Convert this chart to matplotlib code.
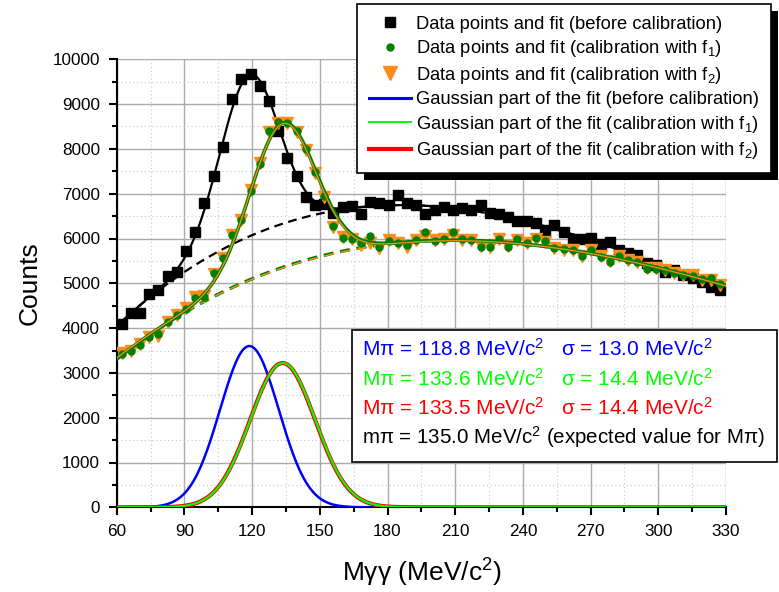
import numpy as np
import matplotlib.pyplot as plt
from matplotlib.lines import Line2D
from matplotlib.patches import Rectangle
from matplotlib.ticker import MultipleLocator
from matplotlib.transforms import IdentityTransform

plt.rcParams['font.family'] = ['Liberation Sans', 'DejaVu Sans']
plt.rcParams['mathtext.fontset'] = 'custom'
plt.rcParams['mathtext.rm'] = 'Liberation Sans'
plt.rcParams['mathtext.it'] = 'Liberation Sans:italic'
plt.rcParams['mathtext.bf'] = 'Liberation Sans:bold'

# 直方图的 bin 中心 (MeV/c^2)
m_gg = [62.2, 66.3, 70.4, 74.4, 78.5, 82.6, 86.7, 90.8, 94.8, 98.9,
        103.0, 107.1, 111.2, 115.2, 119.3, 123.4, 127.5, 131.6, 135.6, 139.7,
        143.8, 147.9, 152.0, 156.0, 160.1, 164.2, 168.3, 172.4, 176.4, 180.5,
        184.6, 188.7, 192.8, 196.8, 200.9, 205.0, 209.1, 213.2, 217.2, 221.3,
        225.4, 229.5, 233.6, 237.6, 241.7, 245.8, 249.9, 254.0, 258.0, 262.1,
        266.2, 270.3, 274.4, 278.4, 282.5, 286.6, 290.7, 294.8, 298.8, 302.9,
        307.0, 311.1, 315.2, 319.3, 323.3, 327.4]

# 标定前
counts_before = [4090, 4330, 4330, 4760, 4860, 5170, 5260, 5720, 6150, 6790,
                 7400, 8050, 9110, 9560, 9670, 9410, 9080, 8390, 7790, 7400,
                 6930, 6740, 6770, 6580, 6710, 6720, 6550, 6820, 6790, 6750,
                 6970, 6790, 6750, 6550, 6640, 6710, 6640, 6670, 6640, 6750,
                 6560, 6540, 6490, 6380, 6380, 6340, 6190, 6300, 6150, 6000,
                 6000, 6020, 5870, 5930, 5740, 5670, 5630, 5450, 5410, 5260,
                 5300, 5190, 5110, 5040, 4920, 4850]

# 用 f1 标定
counts_f1 = [3420, 3480, 3620, 3800, 3860, 4130, 4300, 4420, 4680, 4690,
             5220, 5560, 6070, 6420, 7060, 7660, 8400, 8590, 8570, 8410,
             7990, 7480, 6940, 6280, 6020, 5990, 5900, 6050, 5800, 5950,
             5900, 5850, 5960, 6150, 5950, 6000, 6150, 5980, 5970, 5820,
             5810, 5990, 5820, 5980, 5900, 6010, 5950, 5790, 5760, 5740,
             5620, 5750, 5580, 5480, 5620, 5510, 5470, 5310, 5330, 5290,
             5230, 5190, 5170, 5090, 5110, 4980]

# 用 f2 标定
counts_f2 = [3440, 3490, 3640, 3800, 3830, 4140, 4290, 4440, 4700, 4710,
             5210, 5560, 6080, 6410, 7080, 7680, 8380, 8580, 8580, 8380,
             7970, 7460, 6930, 6250, 6040, 6000, 5860, 5900, 5780, 5970,
             5890, 5820, 5970, 6060, 5960, 6000, 6080, 5970, 5960, 5830,
             5820, 6000, 5830, 5960, 5890, 6000, 5930, 5780, 5750, 5740,
             5600, 5740, 5600, 5490, 5600, 5520, 5480, 5340, 5340, 5300,
             5220, 5180, 5180, 5070, 5070, 4960]

# 高斯部分参数: before, f1, f2
gauss_mean = [118.8, 133.6, 133.5]
gauss_sigma = [13.0, 14.4, 14.4]
gauss_amp = [3600, 3220, 3220]

text_lines = [
    ('M\u03c0 = 118.8 MeV/c$^2$', '\u03c3 = 13.0 MeV/c$^2$', '#0000FF'),
    ('M\u03c0 = 133.6 MeV/c$^2$', '\u03c3 = 14.4 MeV/c$^2$', '#00FF00'),
    ('M\u03c0 = 133.5 MeV/c$^2$', '\u03c3 = 14.4 MeV/c$^2$', '#FF0000'),
]
expected_line = 'm\u03c0 = 135.0 MeV/c$^2$ (expected value for M\u03c0)'

ORANGE = '#FF8C1A'
DGREEN = '#008000'


def gauss(x, a, m, s):
    return a * np.exp(-(x - m) ** 2 / (2 * s ** 2))


def background(x, y, k, deg=3):
    """高斯参数固定, 对剩余部分做多项式本底拟合"""
    x = np.asarray(x, float)
    y = np.asarray(y, float)
    resid = y - gauss(x, gauss_amp[k], gauss_mean[k], gauss_sigma[k])
    return np.poly1d(np.polyfit(x, resid, deg))


W, H = 779, 592
fig = plt.figure(figsize=(W / 100, H / 100), dpi=100)
ax = fig.add_axes([116.7 / W, 1 - 507.3 / H, (726 - 116.7) / W, (507.3 - 59.3) / H])
ax.set_facecolor('white')

xs = np.linspace(60, 330, 800)
bg0 = background(m_gg, counts_before, 0)
bg1 = background(m_gg, counts_f1, 1)
bg2 = background(m_gg, counts_f2, 2)
g0 = gauss(xs, gauss_amp[0], gauss_mean[0], gauss_sigma[0])
g1 = gauss(xs, gauss_amp[1], gauss_mean[1], gauss_sigma[1])
g2 = gauss(xs, gauss_amp[2], gauss_mean[2], gauss_sigma[2])

# 拟合曲线 (本底虚线)
ax.plot(xs, bg0(xs), color='k', lw=1.6, ls=(0, (4, 2.5)), zorder=3)
ax.plot(xs, bg1(xs), color=DGREEN, lw=2.4, ls=(0, (3, 2)), zorder=3)
ax.plot(xs, bg2(xs), color=ORANGE, lw=1.0, ls=(0, (7.2, 4.8)), zorder=3.1)
ax.plot(xs, bg0(xs) + g0, color='k', lw=1.6, zorder=3)

# 数据点
ax.plot(m_gg, counts_before, ls='none', marker='s', ms=6.8, color='k', zorder=4)
ax.plot(m_gg, counts_f2, ls='none', marker='v', ms=8, color=ORANGE, mec=ORANGE, zorder=4.1)
ax.plot(m_gg, counts_f1, ls='none', marker='o', ms=5, color=DGREEN, mec=DGREEN, zorder=4.2)
ax.plot(xs, bg1(xs) + g1, color=DGREEN, lw=2.6, zorder=4.3)
ax.plot(xs, bg2(xs) + g2, color=ORANGE, lw=0.9, zorder=4.4)

# 高斯部分
ax.plot(xs, g0, color='#0000FF', lw=1.8, zorder=3)
ax.plot(xs, g2, color='#FF0000', lw=3.0, zorder=3.1)
ax.plot(xs, g1, color='#00FF00', lw=1.6, zorder=3.2)

ax.set_xlim(60, 330)
ax.set_ylim(0, 10000)
ax.xaxis.set_major_locator(MultipleLocator(30))
ax.xaxis.set_minor_locator(MultipleLocator(15))
ax.yaxis.set_major_locator(MultipleLocator(1000))
ax.yaxis.set_minor_locator(MultipleLocator(500))
ax.grid(True, which='major', color='#ABABAB', lw=1.0, ls='-', zorder=0)
ax.grid(True, which='minor', color='#C8C8C8', lw=0.8, ls=(0, (1, 2.5)), zorder=0)
ax.set_axisbelow(True)

for side in ['top', 'right']:
    ax.spines[side].set_visible(False)
for side in ['left', 'bottom']:
    ax.spines[side].set_linewidth(1.5)
ax.tick_params(which='major', direction='out', length=6, width=1.5, pad=6, labelsize=12.3)
ax.tick_params(which='minor', direction='out', length=3.5, width=1.5)

ax.set_xlabel('M\u03b3\u03b3 (MeV/c$^2$)', fontsize=19)
ax.set_ylabel('Counts', fontsize=19)
ax.xaxis.set_label_coords(0.5, (507.3 - 573) / (507.3 - 59.3))
ax.yaxis.set_label_coords((30 - 116.7) / (726 - 116.7), 0.5)
ax.xaxis.label.set_va('center')
ax.yaxis.label.set_va('center')

# 图例
handles = [
    Line2D([], [], ls='none', marker='s', ms=7.5, color='k'),
    Line2D([], [], ls='none', marker='o', ms=5, color=DGREEN),
    Line2D([], [], ls='none', marker='v', ms=10, color=ORANGE),
    Line2D([], [], color='#0000FF', lw=2.2),
    Line2D([], [], color='#00FF00', lw=1.4),
    Line2D([], [], color='#FF0000', lw=3.0),
]
labels = [
    'Data points and fit (before calibration)',
    'Data points and fit (calibration with f$_1$)',
    'Data points and fit (calibration with f$_2$)',
    'Gaussian part of the fit (before calibration)',
    'Gaussian part of the fit (calibration with f$_1$)',
    'Gaussian part of the fit (calibration with f$_2$)',
]
leg = ax.legend(handles, labels, loc='upper left',
                bbox_to_anchor=(357 / W, 1 - 4 / H), bbox_transform=fig.transFigure,
                borderaxespad=0, fontsize=13.2, frameon=True, fancybox=False,
                framealpha=1, edgecolor='k', borderpad=0.65, labelspacing=0.3,
                handlelength=2.3, handletextpad=0.25)
leg.get_frame().set_linewidth(1.2)
leg.set_zorder(10)

# 结果文本框
box = Rectangle((352 / W, 1 - 462 / H), (777 - 352) / W, (462 - 330) / H,
                transform=fig.transFigure, facecolor='white', edgecolor='k',
                lw=1.2, zorder=5)
fig.add_artist(box)
ys = [349, 379, 408]
for (left, right, col), yy in zip(text_lines, ys):
    fig.text(362 / W, 1 - yy / H, left, color=col, fontsize=15, va='center', zorder=6)
    fig.text(561 / W, 1 - yy / H, right, color=col, fontsize=15, va='center', zorder=6)
fig.text(362 / W, 1 - 437 / H, expected_line, color='k', fontsize=14.8, va='center', zorder=6)

# 图例阴影
fig.canvas.draw()
bb = leg.get_window_extent()
shadow = Rectangle((bb.x0 + 7, bb.y0 - 7), bb.width, bb.height, transform=IdentityTransform(),
                   facecolor='k', edgecolor='none', zorder=9, clip_on=False)
ax.add_artist(shadow)

fig.savefig('out.png', dpi=100)
